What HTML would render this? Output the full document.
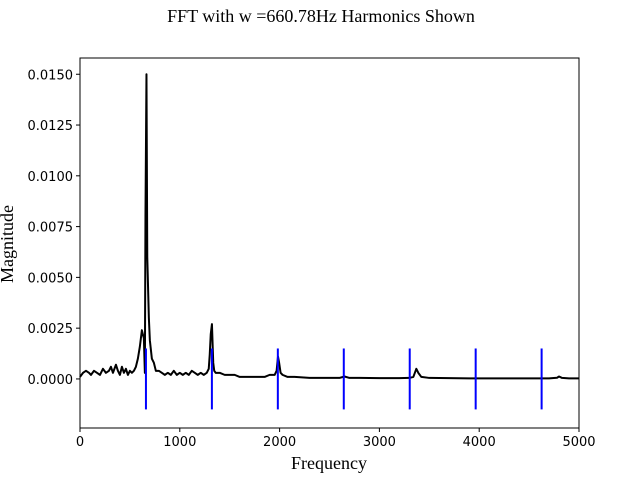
<!DOCTYPE html>
<html><head><meta charset="utf-8"><style>
body{margin:0;background:#fff;}
svg text{fill:#000;}
</style></head><body>
<svg id="chart" width="643" height="480" xmlns="http://www.w3.org/2000/svg">
<text x="321" y="22" text-anchor="middle" font-family="Liberation Serif, serif" font-size="18">FFT with w =660.78Hz Harmonics Shown</text>
<g id="plot"></g>
<text x="329" y="469" text-anchor="middle" font-family="Liberation Serif, serif" font-size="18">Frequency</text>
<text transform="translate(13,244) rotate(-90)" text-anchor="middle" font-family="Liberation Serif, serif" font-size="18">Magnitude</text>
</svg>
<script>
const freqs = [0,30,60,90,110,140,170,200,230,260,290,310,330,360,380,400,420,440,460,480,500,520,540,560,580,600,620,640,650,656,666,674,682,690,700,720,740,760,790,820,850,880,910,940,970,1000,1030,1060,1090,1120,1150,1180,1210,1240,1270,1290,1300,1310,1322,1335,1345,1360,1400,1450,1500,1550,1600,1650,1700,1750,1800,1850,1900,1950,1970,1984,1995,2010,2030,2080,2150,2300,2500,2600,2650,2700,2800,3000,3200,3300,3340,3370,3390,3420,3500,3700,3900,4100,4300,4500,4700,4780,4800,4830,4900,5000];
const mags = [0.0001,0.0003,0.0004,0.0003,0.0002,0.0004,0.0003,0.0002,0.0005,0.0003,0.0004,0.0006,0.0003,0.0007,0.0004,0.0002,0.0006,0.0003,0.0005,0.0002,0.0004,0.0003,0.0004,0.0006,0.0010,0.0016,0.0024,0.0020,0.0003,0.0080,0.0150,0.0060,0.0045,0.0030,0.0019,0.0010,0.0008,0.0004,0.0004,0.0003,0.0002,0.0003,0.0002,0.0004,0.0002,0.0003,0.0002,0.0003,0.0002,0.0004,0.0003,0.0002,0.0003,0.0002,0.0003,0.0005,0.0012,0.0022,0.0027,0.0008,0.0004,0.0003,0.0003,0.0002,0.0002,0.0002,0.0001,0.0001,0.0001,0.0001,0.0001,0.0001,0.0002,0.0002,0.0004,0.0011,0.0008,0.0003,0.0002,0.0001,0.0001,0.00005,0.00005,0.00005,0.00012,0.00005,0.00005,0.00004,0.00004,0.00005,0.0001,0.0005,0.0003,0.0001,0.00005,0.00004,0.00003,0.00003,0.00003,0.00003,0.00003,0.00006,0.00012,0.00005,0.00003,0.00003];
const harmonics = [660.78,1321.56,1982.34,2643.12,3303.9,3964.68,4625.46];
const xTicks = [0,1000,2000,3000,4000,5000];
const yTicks = [0,0.0025,0.005,0.0075,0.01,0.0125,0.015];

const L=80,R=579,T=58,B=428;
const xMin=0,xMax=5000,yMin=-0.002415,yMax=0.01580;
const xs=v=>L+(v-xMin)/(xMax-xMin)*(R-L);
const ys=v=>B-(v-yMin)/(yMax-yMin)*(B-T);
const NS="http://www.w3.org/2000/svg";
const g=document.getElementById('plot');
function mk(t,a){const e=document.createElementNS(NS,t);for(const k in a)e.setAttribute(k,a[k]);g.appendChild(e);return e;}

let d='';
freqs.forEach((f,i)=>{d+=(i?'L':'M')+xs(f).toFixed(2)+' '+ys(mags[i]).toFixed(2);});
const line=mk('path',{d:d,fill:'none',stroke:'#000','stroke-width':2,'stroke-linejoin':'round'});



harmonics.forEach(h=>{
  const e=mk('line',{x1:xs(h),x2:xs(h),y1:ys(0.0015),y2:ys(-0.0015),stroke:'#0000ff','stroke-width':2});
  
  
});

const frame=mk('rect',{x:L,y:T,width:R-L,height:B-T,fill:'none',stroke:'#000','stroke-width':1});



xTicks.forEach(v=>{
  const t=mk('line',{x1:xs(v),x2:xs(v),y1:B,y2:B+4,stroke:'#000'});
  
  
  const l=mk('text',{x:xs(v),y:B+18,'text-anchor':'middle','font-family':'DejaVu Sans, sans-serif','font-size':13});
  l.textContent=v;
  
  
});
yTicks.forEach(v=>{
  const t=mk('line',{x1:L-4,x2:L,y1:ys(v),y2:ys(v),stroke:'#000'});
  
  
  const l=mk('text',{x:L-7,y:ys(v)+5,'text-anchor':'end','font-family':'DejaVu Sans, sans-serif','font-size':13});
  l.textContent=v.toFixed(4);
  
  
});
</script>
</body></html>
